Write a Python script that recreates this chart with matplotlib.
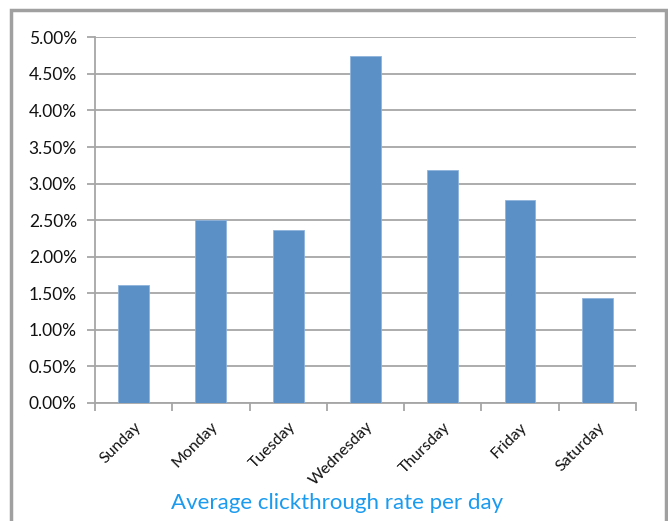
import matplotlib.pyplot as plt
from matplotlib.patches import Rectangle
from matplotlib.ticker import FuncFormatter, FixedLocator
import numpy as np

days = ["Sunday", "Monday", "Tuesday", "Wednesday", "Thursday", "Friday", "Saturday"]
ctr = [1.61, 2.50, 2.37, 4.75, 3.19, 2.77, 1.43]  # percent
y_ticks = [0.0, 0.5, 1.0, 1.5, 2.0, 2.5, 3.0, 3.5, 4.0, 4.5, 5.0]

plt.rcParams['font.family'] = ['Lato', 'DejaVu Sans']

fig = plt.figure(figsize=(6.68, 5.21), dpi=100)
ax = fig.add_axes([0.1422, 0.2265, 0.952 - 0.1422, 0.9284 - 0.2265])

x = np.arange(len(days))
ax.bar(x, ctr, width=0.4, color='#5b90c6', edgecolor='#8fb3dc', linewidth=0.6, zorder=3)

ax.set_xlim(-0.5, len(days) - 0.5)
ax.set_ylim(0, 5)
ax.set_yticks(y_ticks)
ax.yaxis.set_major_formatter(FuncFormatter(lambda v, p: "%.2f%%" % v))
ax.grid(axis='y', color='#a6a6a6', linewidth=1.3, zorder=0)

# category labels at centres, tick marks at boundaries
ax.set_xticks(x)
ax.set_xticklabels(days, rotation=45, ha='right', rotation_mode='anchor')
ax.xaxis.set_minor_locator(FixedLocator(np.arange(-0.5, len(days), 1.0)))
ax.tick_params(axis='x', which='major', length=0, pad=12, labelsize=11.5, colors='#111111')
ax.tick_params(axis='x', which='minor', length=6, width=1.3, color='#a6a6a6')
ax.tick_params(axis='y', length=6, width=1.3, color='#a6a6a6', labelsize=12.5, labelcolor='#111111', pad=7)

for s in ['top', 'right']:
    ax.spines[s].set_visible(False)
for s in ['left', 'bottom']:
    ax.spines[s].set_color('#a6a6a6')
    ax.spines[s].set_linewidth(1.3)

fig.text(0.504, 0.035, "Average clickthrough rate per day", ha='center', va='center',
         color='#1a9bf0', fontsize=16)

# chart frame
fig.patches.append(Rectangle((10.5 / 668, -0.05), (666 - 10.5) / 668, 1.05 - 10.5 / 521,
                             transform=fig.transFigure, fill=False,
                             edgecolor='#a0a0a0', linewidth=2.5))

plt.savefig("out.png", dpi=100)
plt.close()
